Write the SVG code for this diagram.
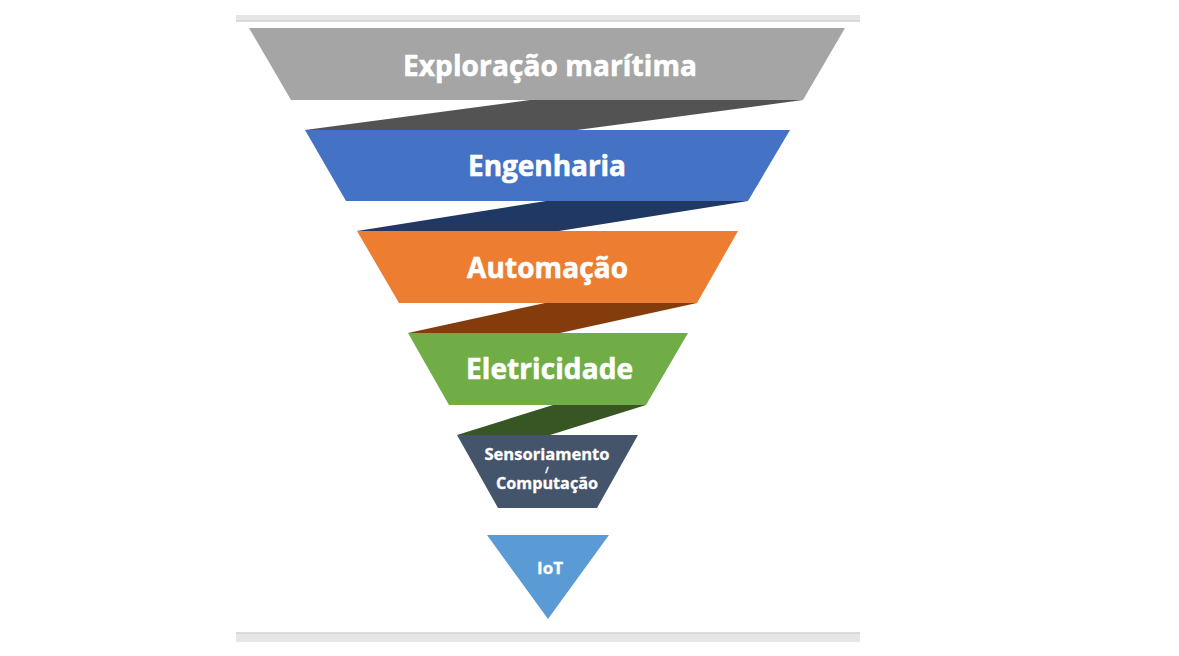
<svg xmlns="http://www.w3.org/2000/svg" width="1179" height="656" viewBox="0 0 1179 656">
<style>
.lbl{font-family:"Open Sans","Noto Sans","DejaVu Sans",sans-serif;font-weight:700;fill:#ffffff;text-anchor:middle;stroke:#ffffff;stroke-width:0.6}
.big{font-size:28px}
.sm{font-size:16px;stroke-width:0.3}
.bar{fill:#e6e6e6}
.barline{stroke:#d2d2d2;stroke-width:1.5}
</style>
<rect width="1179" height="656" fill="#ffffff"/>
<g id="frame">
<rect class="bar" x="236" y="15" width="624" height="6"/>
<line class="barline" x1="236" y1="21" x2="860" y2="21"/>
<rect class="bar" x="236" y="633" width="624" height="9"/>
<line class="barline" x1="236" y1="633" x2="860" y2="633"/>
</g>
<g id="connectors">
<polygon points="530,100 803,100 577,130 305,130" fill="#535353"/>
<polygon points="546,201 748,201 559,231 357,231" fill="#203864"/>
<polygon points="545,303 697,303 560,333 408,333" fill="#843c0c"/>
<polygon points="553,405 646,405 550,435 457,435" fill="#375623"/>
</g>
<g id="node1">
<polygon points="249,28 845,28 803,100 291,100" fill="#a5a5a5"/>
<text class="lbl big" x="550" y="76" textLength="294" lengthAdjust="spacing">Exploração marítima</text>
</g>
<g id="node2">
<polygon points="305,130 790,130 748,201 346,201" fill="#4472c4"/>
<text class="lbl big" x="547" y="176" textLength="158" lengthAdjust="spacing">Engenharia</text>
</g>
<g id="node3">
<polygon points="357,231 738,231 697,303 399,303" fill="#ed7d31"/>
<text class="lbl big" x="547.5" y="278" textLength="161" lengthAdjust="spacing">Automação</text>
</g>
<g id="node4">
<polygon points="408,333 688,333 646,405 449,405" fill="#70ad47"/>
<text class="lbl big" x="549.5" y="379" textLength="167" lengthAdjust="spacing">Eletricidade</text>
</g>
<g id="node5">
<polygon points="457,435 638,435 597,508 498,508" fill="#44546a"/>
<text class="lbl sm" x="547" y="460" textLength="125" lengthAdjust="spacingAndGlyphs">Sensoriamento</text>
<text class="lbl" style="font-size:8px;stroke-width:0.3" x="547" y="473">/</text>
<text class="lbl sm" x="547" y="489" textLength="102" lengthAdjust="spacingAndGlyphs">Computação</text>
</g>
<g id="node6">
<polygon points="487,535 609,535 548,619" fill="#5b9bd5"/>
<text class="lbl sm" x="550" y="574" textLength="26" lengthAdjust="spacingAndGlyphs">IoT</text>
</g>
</svg>
